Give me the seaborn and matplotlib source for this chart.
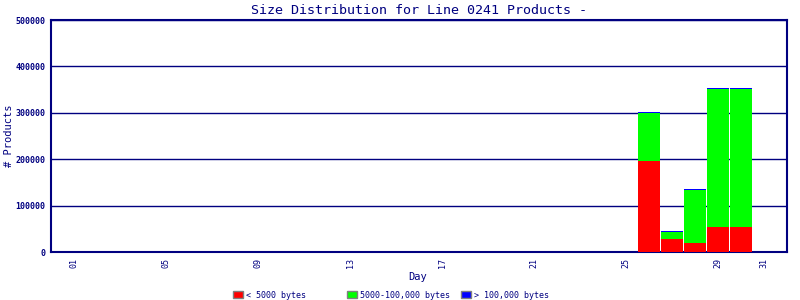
import matplotlib
matplotlib.use("Agg")
import matplotlib.pyplot as plt
import seaborn as sns
import pandas as pd
from matplotlib.patches import Patch

# Data
days = [26, 27, 28, 29, 30]
small = [196000, 28000, 19500, 54000, 54000]      # < 5000 bytes
medium = [103500, 15700, 114500, 297300, 297300]  # 5000-100,000 bytes
large = [1500, 1300, 1800, 1800, 1800]            # > 100,000 bytes
tick_days = [1, 5, 9, 13, 17, 21, 25, 29, 31]
tick_labels = ["01", "05", "09", "13", "17", "21", "25", "29", "31"]
yticks = [0, 100000, 200000, 300000, 400000, 500000]
labels = ["< 5000 bytes", "5000-100,000 bytes", "> 100,000 bytes"]
colors = ["#ff0000", "#00ff00", "#0000ff"]

NAVY = "#000080"

sns.set_theme(style="white")
plt.rcParams["font.family"] = ["DejaVu Sans Mono", "DejaVu Sans"]

df = pd.DataFrame({"day": days, "small": small, "medium": medium, "large": large})
df["c1"] = df["small"]
df["c2"] = df["small"] + df["medium"]
df["c3"] = df["c2"] + df["large"]

fig = plt.figure(figsize=(8, 3), dpi=100)
ax = fig.add_axes([51/800, 1-252/300, (787-51)/800, (252-20)/300])

for col, c in zip(["c3", "c2", "c1"], [colors[2], colors[1], colors[0]]):
    sns.barplot(data=df, x="day", y=col, native_scale=True, color=c,
                saturation=1, width=22/23, linewidth=0, ax=ax, zorder=3)

ax.set_xlim(0, 32)
ax.set_ylim(0, 500000)
ax.set_yticks(yticks)
ax.set_yticklabels([str(v) for v in yticks], fontsize=6, fontweight="bold", color=NAVY)
ax.set_xticks(tick_days)
ax.set_xticklabels(tick_labels, rotation=90, fontsize=6, color=NAVY)
ax.tick_params(axis="both", length=0, pad=4)
ax.yaxis.grid(True, color=NAVY, linewidth=1.0, zorder=1)
ax.set_axisbelow(True)
for s in ax.spines.values():
    s.set_color(NAVY)
    s.set_linewidth(1.5)
    s.set_visible(True)

ax.set_xlabel("Day", fontsize=7.5, color=NAVY)
ax.set_ylabel("# Products", fontsize=7.5, color=NAVY)
ax.xaxis.set_label_coords((418 - 51) / 736, (252 - 272) / 232)
ax.yaxis.set_label_coords((14 - 51) / 736, 0.502)
ax.set_title("Size Distribution for Line 0241 Products -", fontsize=9.6, color=NAVY, pad=4)

xs = [233, 347, 461]
for x, lab, c in zip(xs, labels, colors):
    leg = fig.legend(handles=[Patch(facecolor=c, edgecolor="#808080", linewidth=1)],
                     labels=[lab], loc="center left",
                     bbox_to_anchor=(x/800, 1 - 295/300),
                     frameon=False, fontsize=6.0, handlelength=1.2, handleheight=1.0,
                     handletextpad=0.4, borderpad=0, borderaxespad=0)
    for t in leg.get_texts():
        t.set_color(NAVY)

fig.savefig("out.png", dpi=100, facecolor="white")
